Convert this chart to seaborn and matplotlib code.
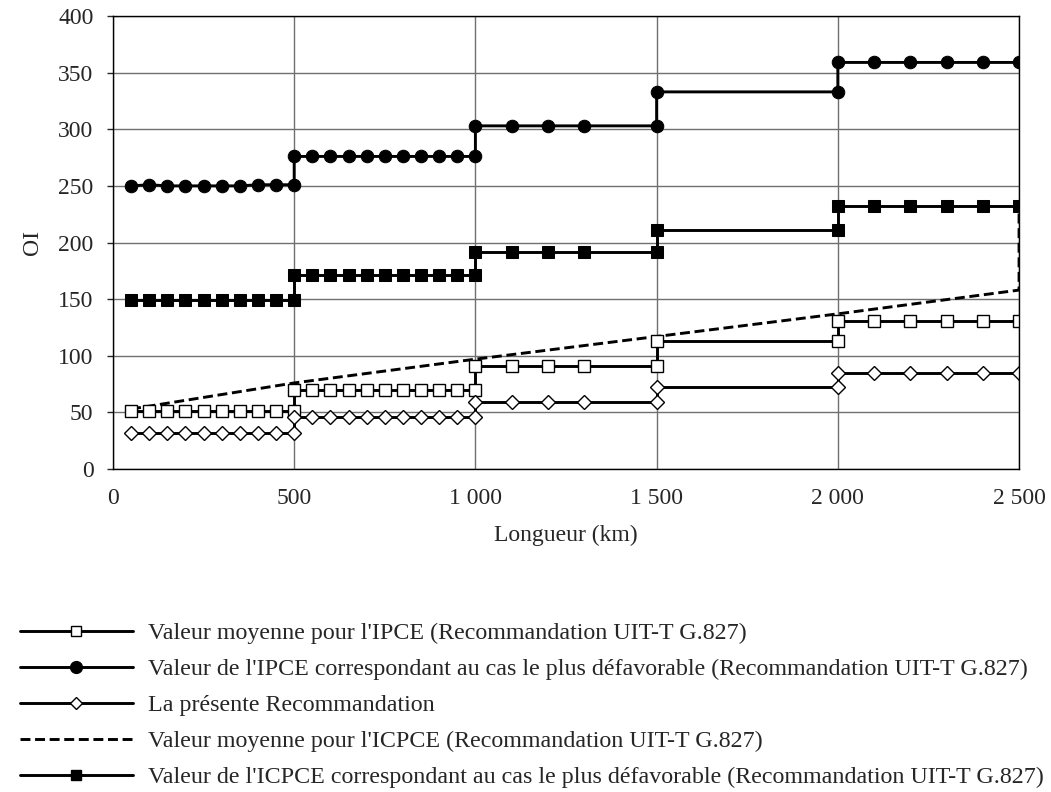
import matplotlib
matplotlib.use("Agg")
import matplotlib.pyplot as plt
import seaborn as sns
import pandas as pd
from matplotlib.ticker import FixedLocator, FixedFormatter
from matplotlib.lines import Line2D

# ---- data ----
x_km = [50, 100, 150, 200, 250, 300, 350, 400, 450, 500,
        500, 550, 600, 650, 700, 750, 800, 850, 900, 950, 1000,
        1000, 1100, 1200, 1300, 1500,
        1500, 2000,
        2000, 2100, 2200, 2300, 2400, 2500]

ipce_moy = [51, 51, 51, 51, 51, 51, 51, 51, 51, 51,
            70, 70, 70, 70, 70, 70, 70, 70, 70, 70, 70,
            91, 91, 91, 91, 91,
            113, 113,
            131, 131, 131, 131, 131, 131]

ipce_pire = [250, 251, 250, 250, 250, 250, 250, 251, 251, 251,
             276, 276, 276, 276, 276, 276, 276, 276, 276, 276, 276,
             303, 303, 303, 303, 303,
             333, 333,
             359, 359, 359, 359, 359, 359]

presente = [32, 32, 32, 32, 32, 32, 32, 32, 32, 32,
            46, 46, 46, 46, 46, 46, 46, 46, 46, 46, 46,
            59, 59, 59, 59, 59,
            72, 72,
            85, 85, 85, 85, 85, 85]

icpce_pire = [149, 149, 149, 149, 149, 149, 149, 149, 149, 149,
              171, 171, 171, 171, 171, 171, 171, 171, 171, 171, 171,
              192, 192, 192, 192, 192,
              211, 211,
              232, 232, 232, 232, 232, 232]

icpce_moy_x = [50, 500, 1000, 1500, 2000, 2500, 2500]
icpce_moy = [53, 76, 97, 117, 137, 158, 232]

labels = [
    "Valeur moyenne pour l'IPCE (Recommandation UIT-T G.827)",
    "Valeur de l'IPCE correspondant au cas le plus défavorable (Recommandation UIT-T G.827)",
    "La présente Recommandation",
    "Valeur moyenne pour l'ICPCE (Recommandation UIT-T G.827)",
    "Valeur de l'ICPCE correspondant au cas le plus défavorable (Recommandation UIT-T G.827)",
]

x_ticks = [0, 500, 1000, 1500, 2000, 2500]
x_ticklabels = ["0", "500", "1 000", "1 500", "2 000", "2 500"]
y_ticks = [0, 50, 100, 150, 200, 250, 300, 350, 400]

# ---- style ----
sns.set_style("white")
plt.rcParams['font.family'] = ['Liberation Serif', 'DejaVu Serif']
FS = 17
LFS = 17.3
plt.rcParams['font.size'] = FS

fig = plt.figure(figsize=(10.51, 7.92), dpi=100)
ax = fig.add_axes([0.1075, 0.4078, 0.8621, 0.572])

lw = 2.1
dash = (0, (3.4, 1.6))
common = dict(ax=ax, color="black", linewidth=lw, estimator=None, sort=False,
              errorbar=None, legend=False)

df_moy = pd.DataFrame({"x": x_km, "y": ipce_moy})
df_pire = pd.DataFrame({"x": x_km, "y": ipce_pire})
df_pres = pd.DataFrame({"x": x_km, "y": presente})
df_icm = pd.DataFrame({"x": icpce_moy_x, "y": icpce_moy})
df_icp = pd.DataFrame({"x": x_km, "y": icpce_pire})

sns.lineplot(data=df_icm, x="x", y="y", linestyle=dash, **common)
sns.lineplot(data=df_pire, x="x", y="y", marker="o", markersize=9,
             markerfacecolor="black", markeredgecolor="black", **common)
sns.lineplot(data=df_icp, x="x", y="y", marker="s", markersize=8,
             markerfacecolor="black", markeredgecolor="black", **common)
sns.lineplot(data=df_moy, x="x", y="y", marker="s", markersize=8,
             markerfacecolor="white", markeredgecolor="black", markeredgewidth=1.0, **common)
sns.lineplot(data=df_pres, x="x", y="y", marker="D", markersize=7.5,
             markerfacecolor="white", markeredgecolor="black", markeredgewidth=1.0, **common)

ax.set_xlim(0, 2500)
ax.set_ylim(0, 400)
ax.xaxis.set_major_locator(FixedLocator(x_ticks))
ax.xaxis.set_major_formatter(FixedFormatter(x_ticklabels))
ax.yaxis.set_major_locator(FixedLocator(y_ticks))
ax.grid(True, color="#707070", linewidth=1.0)
ax.set_axisbelow(True)
for s in ax.spines.values():
    s.set_color("black")
    s.set_linewidth(1.0)
    s.set_visible(True)

ax.tick_params(axis="x", length=0, pad=14, labelsize=FS)
ax.tick_params(axis="y", length=4, width=1, direction="out", left=True, pad=10, labelsize=FS)

ax.set_xlabel("Longueur (km)", fontsize=FS, labelpad=11)
ax.set_ylabel("OI", fontsize=FS, labelpad=11)

# legend
handles = [
    Line2D([], [], color="black", lw=lw, marker="s", ms=7, mfc="white", mec="black", mew=1.0),
    Line2D([], [], color="black", lw=lw, marker="o", ms=8.5, mfc="black", mec="black"),
    Line2D([], [], color="black", lw=lw, marker="D", ms=6.5, mfc="white", mec="black", mew=1.0),
    Line2D([], [], color="black", lw=lw, linestyle=dash),
    Line2D([], [], color="black", lw=lw, marker="s", ms=7.5, mfc="black", mec="black"),
]
fig.legend(handles, labels, loc="upper left", bbox_to_anchor=(0.019, 0.2143),
           frameon=False, fontsize=LFS, handlelength=4.7, handletextpad=0.63,
           labelspacing=0.59, borderaxespad=0, borderpad=0)

fig.savefig("out.png", dpi=100)
